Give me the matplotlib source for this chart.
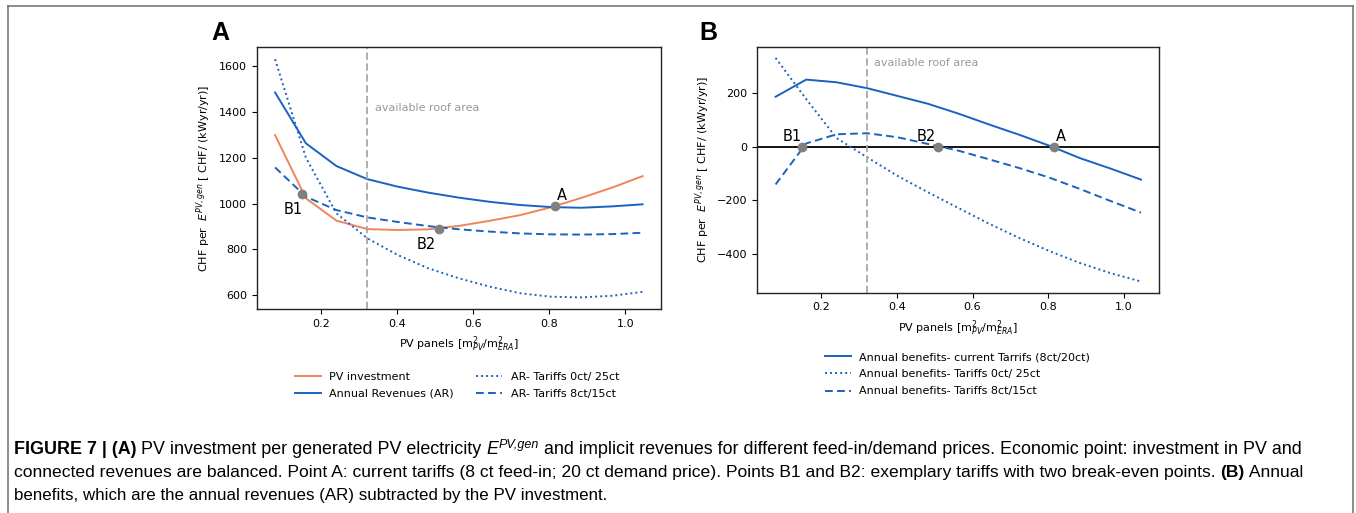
import numpy as np
import matplotlib
matplotlib.use("Agg")
import matplotlib.pyplot as plt
from matplotlib import font_manager
from matplotlib.lines import Line2D

# PV panel area per energy reference area [m2_PV / m2_ERA]
pv_area = [0.080, 0.161, 0.241, 0.322, 0.402, 0.482, 0.563, 0.643, 0.724, 0.804, 0.884, 0.965, 1.045]

# (A) CHF per generated PV energy
pv_invest = [1299, 1023, 926, 889, 885, 888, 903, 925, 950, 984, 1025, 1070, 1120]
ar_current = [1485, 1263, 1164, 1107, 1074, 1048, 1026, 1008, 994, 985, 982, 988, 997]
ar_0_25 = [1630, 1200, 958, 849, 776, 718, 674, 638, 609, 594, 591, 598, 615]
ar_8_15 = [1158, 1030, 972, 940, 920, 902, 888, 878, 870, 866, 865, 867, 873]

# (B) annual benefits = AR - PV investment
ben_current = [186, 250, 240, 218, 189, 160, 123, 83, 44, 3, -43, -82, -123]
ben_0_25 = [331, 177, 32, -40, -109, -170, -229, -287, -341, -390, -434, -472, -503]
ben_8_15 = [-141, 12, 46, 50, 35, 10, -15, -47, -80, -116, -158, -203, -246]

# break-even points
be_names = ["B1", "B2", "A"]
be_x = [0.150, 0.510, 0.815]
be_y = [1040, 889, 988]
roof_area = 0.322

ORANGE = "#f0845a"
BLUE = "#1a62c0"
GREY = "#808080"
W, H = 1356, 513

plt.rcParams["font.family"] = "DejaVu Sans"
plt.rcParams["font.size"] = 8
plt.rcParams["mathtext.fontset"] = "dejavusans"

fig = plt.figure(figsize=(W / 100, H / 100), dpi=100)

def px_box(l, t, r, b):
    return [l / W, 1 - b / H, (r - l) / W, (b - t) / H]

axA = fig.add_axes(px_box(256.7, 47.3, 661, 309.3))
axB = fig.add_axes(px_box(757.3, 46.7, 1159.3, 292.7))

ylab = r"CHF per  $E^{PV,gen}$ [ CHF/ (kWyr/yr)]"
xlab = r"PV panels [m$^2_{PV}$/m$^2_{ERA}$]"

# --- panel A
axA.plot(pv_area, pv_invest, color=ORANGE, lw=1.4, label="PV investment")
axA.plot(pv_area, ar_current, color=BLUE, lw=1.4, label="Annual Revenues (AR)")
axA.plot(pv_area, ar_0_25, color=BLUE, lw=1.4, ls=(0, (1, 1.6)), label="AR- Tariffs 0ct/ 25ct")
axA.plot(pv_area, ar_8_15, color=BLUE, lw=1.4, ls=(0, (4, 2.2)), label="AR- Tariffs 8ct/15ct")
axA.axvline(roof_area, color="#a8a8a8", lw=1.3, ls=(0, (4, 2)))
axA.text(roof_area + 0.02, 1415, "available roof area", color="#999999", fontsize=8, va="center")
axA.plot(be_x, be_y, "o", color=GREY, ms=6, zorder=5)
axA.text(0.127, 975, "B1", fontsize=10.5, ha="center", va="center")
axA.text(0.477, 822, "B2", fontsize=10.5, ha="center", va="center")
axA.text(0.833, 1035, "A", fontsize=10.5, ha="center", va="center")
axA.set_yticks([600, 800, 1000, 1200, 1400, 1600])
axA.set_xticks([0.2, 0.4, 0.6, 0.8, 1.0])
axA.set_xlabel(xlab)
axA.set_ylabel(ylab)

# --- panel B
axB.plot(pv_area, ben_current, color=BLUE, lw=1.4, label="Annual benefits- current Tarrifs (8ct/20ct)")
axB.plot(pv_area, ben_0_25, color=BLUE, lw=1.4, ls=(0, (1, 1.6)), label="Annual benefits- Tariffs 0ct/ 25ct")
axB.plot(pv_area, ben_8_15, color=BLUE, lw=1.4, ls=(0, (4, 2.2)), label="Annual benefits- Tariffs 8ct/15ct")
axB.axhline(0, color="black", lw=1.3, zorder=1)
axB.axvline(roof_area, color="#a8a8a8", lw=1.3, ls=(0, (4, 2)))
axB.text(roof_area + 0.019, 312, "available roof area", color="#999999", fontsize=8, va="center")
axB.plot(be_x, [0, 0, 0], "o", color=GREY, ms=6, zorder=5)
axB.text(0.125, 38, "B1", fontsize=10.5, ha="center", va="center")
axB.text(0.478, 38, "B2", fontsize=10.5, ha="center", va="center")
axB.text(0.834, 38, "A", fontsize=10.5, ha="center", va="center")
axB.set_yticks([-400, -200, 0, 200])
axB.set_xticks([0.2, 0.4, 0.6, 0.8, 1.0])
axB.set_xlabel(xlab)
axB.set_ylabel(ylab)

for ax in (axA, axB):
    ax.tick_params(labelsize=8, length=3.5, width=0.8)
    for sp in ax.spines.values():
        sp.set_linewidth(1.0)
        sp.set_color("#222222")

legA = fig.legend(*axA.get_legend_handles_labels(), loc="upper left",
                  bbox_to_anchor=(295 / W, 1 - 372 / H), ncol=2, frameon=False,
                  fontsize=8, handlelength=2.3, handletextpad=0.8, columnspacing=2.0,
                  labelspacing=0.6, borderpad=0, borderaxespad=0)
legB = fig.legend(*axB.get_legend_handles_labels(), loc="upper left",
                  bbox_to_anchor=(825 / W, 1 - 352 / H), ncol=1, frameon=False,
                  fontsize=8, handlelength=2.3, handletextpad=0.8,
                  labelspacing=0.65, borderpad=0, borderaxespad=0)

fig.text(220 / W, 1 - 33 / H, "A", fontsize=18, fontweight="bold",
         family=["Liberation Sans", "DejaVu Sans"], ha="center", va="center")
fig.text(708 / W, 1 - 33 / H, "B", fontsize=18, fontweight="bold",
         family=["Liberation Sans", "DejaVu Sans"], ha="center", va="center")

# outer frame (open at the bottom)
frame_kw = dict(color="#6e6e6e", lw=1.1, transform=fig.transFigure)
fig.add_artist(Line2D([8 / W, 1353 / W], [1 - 6 / H, 1 - 6 / H], **frame_kw))
fig.add_artist(Line2D([8 / W, 8 / W], [1 - 6 / H, 0], **frame_kw))
fig.add_artist(Line2D([1353 / W, 1353 / W], [1 - 6 / H, 0], **frame_kw))

# --- caption
names = {f.name for f in font_manager.fontManager.ttflist}
narrow = "Liberation Sans Narrow" if "Liberation Sans Narrow" in names else "Liberation Sans"
renderer = fig.canvas.get_renderer()

def seg_width(s, **kw):
    t = fig.text(0, 0, s + "|", **kw)
    w = t.get_window_extent(renderer).width
    t.remove()
    t = fig.text(0, 0, "|", **kw)
    w -= t.get_window_extent(renderer).width
    t.remove()
    return w

def caption_line(x0, base, segs, family, size, right=None):
    def kws(seg, sz):
        return dict(fontsize=sz * seg.get("scale", 1), family=family,
                    fontweight=seg.get("weight", "normal"), style=seg.get("style", "normal"))
    if right is not None:
        total = sum(seg_width(s["text"], **kws(s, size)) for s in segs)
        size = size * (right - x0) / total
    x = x0
    for s in segs:
        kw = kws(s, size)
        fig.text(x / W, 1 - (base - s.get("rise", 0) * size) / H, s["text"], va="baseline", **kw)
        x += seg_width(s["text"], **kw)

line1 = [
    dict(text="FIGURE 7 | (A)", weight="bold"),
    dict(text=" PV investment per generated PV electricity "),
    dict(text="E", style="italic"),
    dict(text="PV,gen", style="italic", scale=0.7, rise=0.45),
    dict(text=" and implicit revenues for different feed-in/demand prices. Economic point: investment in PV and"),
]
line2 = [
    dict(text="connected revenues are balanced. Point A: current tariffs (8 ct feed-in; 20 ct demand price). "
              "Points B1 and B2: exemplary tariffs with two break-even points. "),
    dict(text="(B)", weight="bold"),
    dict(text=" Annual"),
]
line3 = [dict(text="benefits, which are the annual revenues (AR) subtracted by the PV investment.")]

caption_line(14, 454, line1, narrow, 11, right=1300)
caption_line(14, 477, line2, narrow, 11, right=1300)
caption_line(14, 500, line3, "Liberation Sans", 11, right=605)

fig.savefig("out.png", dpi=100)
